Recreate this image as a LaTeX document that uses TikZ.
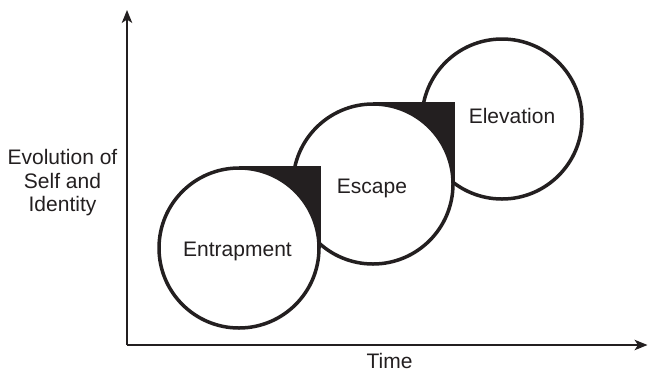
\documentclass[tikz,border=0pt]{standalone}
\usepackage{fontspec}
\setmainfont{Liberation Sans}
\usetikzlibrary{arrows.meta}
\definecolor{ink}{HTML}{231F20}
\begin{document}
\begin{tikzpicture}[x=1bp,y=-1bp,
  stage/.style={circle, draw=ink, fill=white, line width=3.5bp,
    minimum size=160bp, inner sep=0pt},
  wordlabel/.style={text=ink, inner sep=0pt, anchor=base,
    font=\fontsize{21bp}{23.5bp}\selectfont},
  axisline/.style={draw=ink, line width=1.4bp,
    -{Stealth[length=13bp,width=10.5bp,inset=3.5bp]}},
  corner/.style={fill=ink}]
  \useasboundingbox (0,0) rectangle (648,372);

  % axes
  \coordinate (origin) at (127,345);
  \coordinate (ytip) at (127,10);
  \coordinate (xtip) at (647.5,345);
  \draw[axisline] (origin) -- (ytip);
  \draw[axisline] (origin) -- (xtip);

  % stages, drawn back to front
  \node[stage] (elevation) at (502,119) {};
  \fill[corner] (373,184) rectangle ++(82,-82);
  \node[stage] (escape) at (373,184) {};
  \fill[corner] (239,248) rectangle ++(82,-82);
  \node[stage] (entrapment) at (239,248) {};

  % labels
  \node[wordlabel] (t1) at (237.5,256) {Entrapment};
  \node[wordlabel] (t2) at (372,193) {Escape};
  \node[wordlabel] (t3) at (512,123) {Elevation};
  \node[wordlabel] (time) at (389.5,368) {Time};
  \node[text=ink, inner sep=0pt, align=center,
    font=\fontsize{21bp}{23.5bp}\selectfont] (evo) at (62.5,183)
    {Evolution of\\Self and\\Identity};
\end{tikzpicture}
\end{document}
